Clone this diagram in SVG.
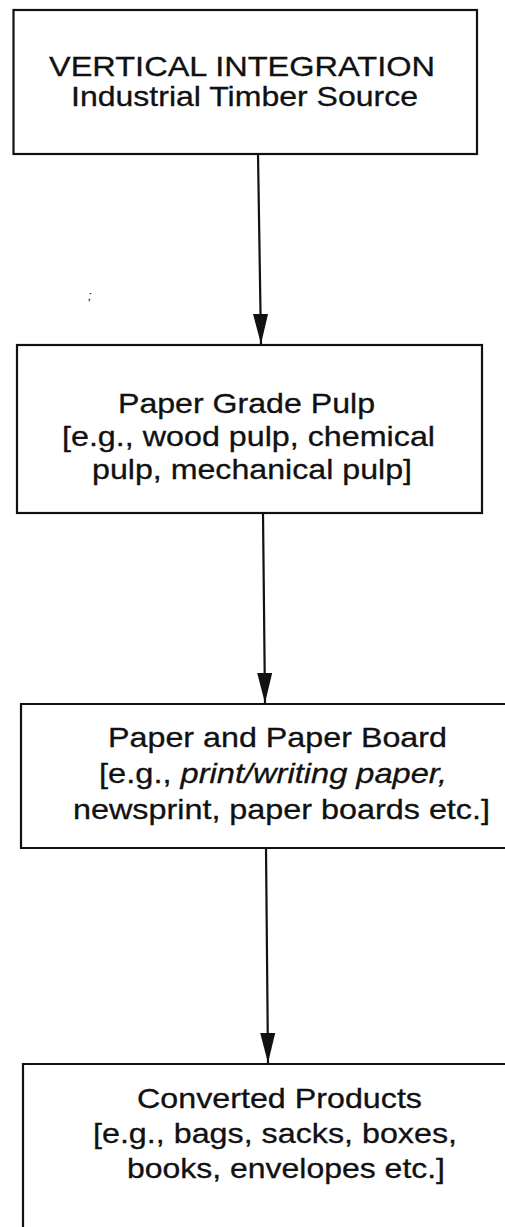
<svg xmlns="http://www.w3.org/2000/svg" width="505" height="1227" viewBox="0 0 505 1227">
  <style>
    .box { fill: #fff; stroke: #111; stroke-width: 2.2; }
    .edge { fill: none; stroke: #111; stroke-width: 2.2; }
    .lbl { font-family: "Liberation Sans", Arial, Helvetica, sans-serif; font-size: 28px; fill: #111; stroke: #111; stroke-width: 0.3; }
    .it { font-style: italic; }
  </style>
  <defs>
    <marker id="arrow" markerUnits="userSpaceOnUse" viewBox="-31 -9 32 18" refX="0" refY="0" markerWidth="32" markerHeight="18" orient="auto" overflow="visible">
      <path d="M-30,-7.5 L0,0 L-30,7.5 z" fill="#111"/>
    </marker>
  </defs>
  <rect width="505" height="1227" fill="#fff"/>

  <g id="connectors">
    <path class="edge" d="M258,154 L261,344" marker-end="url(#arrow)"/>
    <path class="edge" d="M263,513 L265,703" marker-end="url(#arrow)"/>
    <path class="edge" d="M266,848 L268,1063" marker-end="url(#arrow)"/>
  </g>

  <g id="node-timber">
    <rect class="box" x="13.5" y="10" width="463.5" height="144"/>
    <text class="lbl" x="49" y="76" textLength="386" lengthAdjust="spacingAndGlyphs">VERTICAL INTEGRATION</text>
    <text class="lbl" x="71" y="106" textLength="347" lengthAdjust="spacingAndGlyphs">Industrial Timber Source</text>
  </g>

  <g id="node-pulp">
    <rect class="box" x="17" y="345" width="465" height="168"/>
    <text class="lbl" x="118" y="413" textLength="257" lengthAdjust="spacingAndGlyphs">Paper Grade Pulp</text>
    <text class="lbl" x="62" y="446" textLength="373" lengthAdjust="spacingAndGlyphs">[e.g., wood pulp, chemical</text>
    <text class="lbl" x="92" y="479" textLength="320" lengthAdjust="spacingAndGlyphs">pulp, mechanical pulp]</text>
  </g>

  <g id="node-paper">
    <path class="box" d="M510,704 L21,704 L21,848 L510,848"/>
    <text class="lbl" x="108" y="747" textLength="339" lengthAdjust="spacingAndGlyphs">Paper and Paper Board</text>
    <text class="lbl" x="99" y="783" textLength="348" lengthAdjust="spacingAndGlyphs">[e.g., <tspan class="it">print/writing paper,</tspan></text>
    <text class="lbl" x="73" y="819" textLength="417" lengthAdjust="spacingAndGlyphs">newsprint, paper boards etc.]</text>
  </g>

  <g id="node-converted">
    <path class="box" d="M510,1064 L23,1064 L23,1230"/>
    <text class="lbl" x="137" y="1108" textLength="285" lengthAdjust="spacingAndGlyphs">Converted Products</text>
    <text class="lbl" x="93" y="1143" textLength="364" lengthAdjust="spacingAndGlyphs">[e.g., bags, sacks, boxes,</text>
    <text class="lbl" x="127" y="1178" textLength="318" lengthAdjust="spacingAndGlyphs">books, envelopes etc.]</text>
  </g>

  <text class="lbl" x="88" y="300" style="font-size:13px;font-style:italic;stroke:none">;</text>
</svg>
